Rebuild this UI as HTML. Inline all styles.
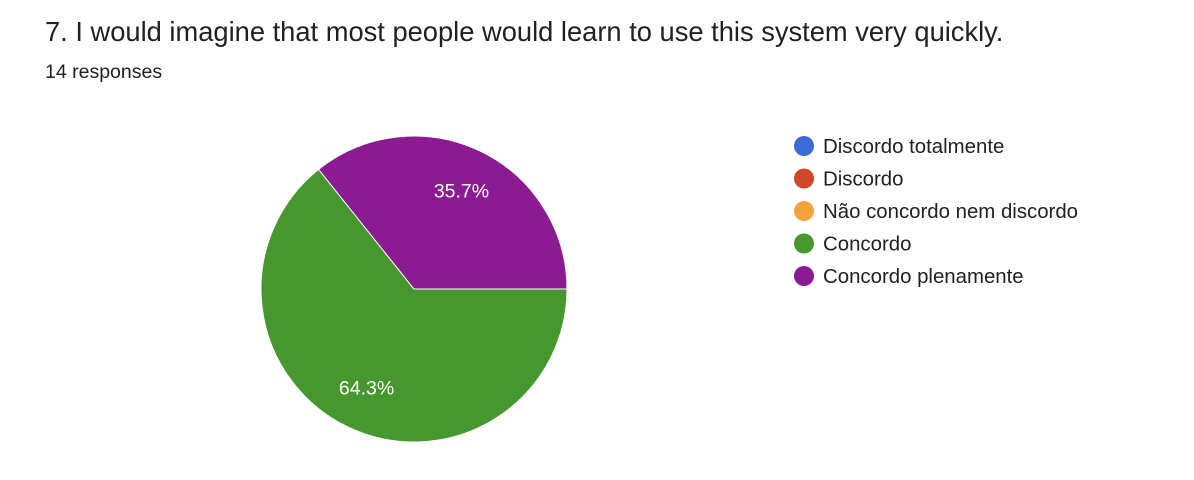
<!DOCTYPE html>
<html><head><meta charset="utf-8"><style>
body{margin:0;width:1194px;height:480px;background:#fff;font-family:"Liberation Sans",Arial,sans-serif;overflow:hidden;position:relative}
#title{position:absolute;left:45px;top:16px;font-size:27.3px;color:#202124;white-space:nowrap}
#sub{position:absolute;left:45px;top:61px;font-size:19.5px;color:#202124}
svg{position:absolute;left:0;top:0}
</style></head><body>
<div id="title">7. I would imagine that most people would learn to use this system very quickly.</div>
<div id="sub">14 responses</div>
<svg id="chart" width="1194" height="480"></svg>
<script>
const categories=["Discordo totalmente","Discordo","Não concordo nem discordo","Concordo","Concordo plenamente"];
const values=[0,0,0,9,5];
const colors=["#3d6ad6","#d2462a","#f4a23a","#47972f","#8b1b93"];
const sliceOrder=[3,4,0,1,2];
const NS="http://www.w3.org/2000/svg";
const svg=document.getElementById('chart');
const cx=414,cy=289,r=153,startDeg=90;
const total=values.reduce((a,b)=>a+b,0);
function pt(deg,rad){const a=(deg-90)*Math.PI/180;return [cx+rad*Math.cos(a),cy+rad*Math.sin(a)];}
let ang=startDeg;
sliceOrder.forEach(i=>{
  const v=values[i]; if(!v) return;
  const sweep=v/total*360, a0=ang, a1=ang+sweep; ang=a1;
  const p=document.createElementNS(NS,'path');
  const [x0,y0]=pt(a0,r),[x1,y1]=pt(a1,r);
  if(sweep>=359.99){p.setAttribute('d',`M${cx-r},${cy}a${r},${r} 0 1,0 ${2*r},0a${r},${r} 0 1,0 ${-2*r},0`);}
  else p.setAttribute('d',`M${cx},${cy}L${x0},${y0}A${r},${r} 0 ${sweep>180?1:0},1 ${x1},${y1}Z`);
  p.setAttribute('fill',colors[i]);p.setAttribute('stroke','#fff');p.setAttribute('stroke-width','1');
  
  
  svg.appendChild(p);
  const [lx,ly]=pt((a0+a1)/2,r*0.715);
  const t=document.createElementNS(NS,'text');
  t.setAttribute('x',lx);t.setAttribute('y',ly+7);t.setAttribute('text-anchor','middle');
  t.setAttribute('fill','#fff');t.setAttribute('font-size','19.5');
  t.textContent=(v/total*100).toFixed(1)+'%';
  
  
  svg.appendChild(t);
});
categories.forEach((c,i)=>{
  const y=146+i*32.5;
  const g=document.createElementNS(NS,'g');
  
  
  const d=document.createElementNS(NS,'circle');
  d.setAttribute('cx',804);d.setAttribute('cy',y);d.setAttribute('r',10);d.setAttribute('fill',colors[i]);
  g.appendChild(d);
  const t=document.createElementNS(NS,'text');
  t.setAttribute('x',823);t.setAttribute('y',y+7);t.setAttribute('font-size','20.4');t.setAttribute('fill','#202124');
  t.textContent=c;g.appendChild(t);
  svg.appendChild(g);
});
</script>
</body></html>
